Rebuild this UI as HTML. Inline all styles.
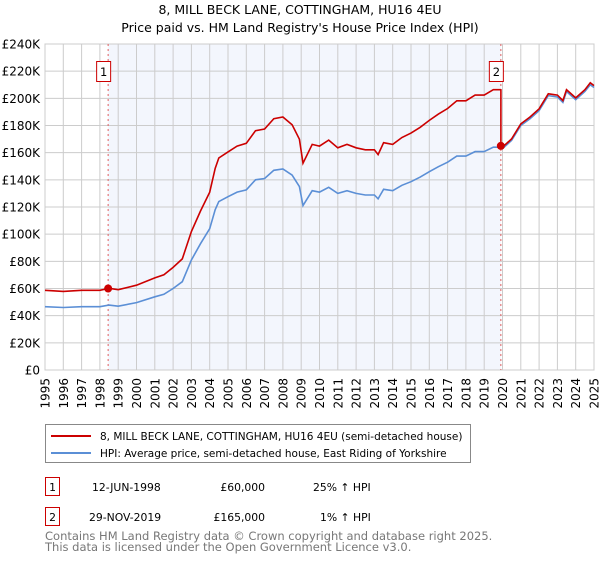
<!DOCTYPE html>
<html><head><meta charset="utf-8"><style>
body{margin:0;background:#fff;font-family:"Liberation Sans","DejaVu Sans",sans-serif;}
svg text{font-family:"DejaVu Sans","Liberation Sans",sans-serif;}
</style></head><body>
<svg id="c" width="600" height="560" xmlns="http://www.w3.org/2000/svg">
<text x="300" y="14" text-anchor="middle" font-size="12.5">8, MILL BECK LANE, COTTINGHAM, HU16 4EU</text>
<text x="300" y="32" text-anchor="middle" font-size="12.5">Price paid vs. HM Land Registry's House Price Index (HPI)</text>
<g id="plot"></g>
<g>
<rect x="45.5" y="424.5" width="425" height="38" fill="#fff" stroke="#888"/>
<line x1="51" y1="436" x2="91" y2="436" stroke="#cc0000" stroke-width="2"/>
<text x="100" y="440" font-size="10.5">8, MILL BECK LANE, COTTINGHAM, HU16 4EU (semi-detached house)</text>
<line x1="51" y1="453" x2="91" y2="453" stroke="#5b8fd6" stroke-width="2"/>
<text x="100" y="457" font-size="10.5">HPI: Average price, semi-detached house, East Riding of Yorkshire</text>
</g>
<g font-size="10.8">
<rect x="45.5" y="477.5" width="14" height="18" fill="#fff" stroke="#cc0000"/>
<text x="52.5" y="491" text-anchor="middle">1</text>
<text x="92" y="491">12-JUN-1998</text><text x="265" y="491" text-anchor="end">£60,000</text><text x="313" y="491">25% ↑ HPI</text>
<rect x="45.5" y="507.5" width="14" height="18" fill="#fff" stroke="#cc0000"/>
<text x="52.5" y="521" text-anchor="middle">2</text>
<text x="89" y="521">29-NOV-2019</text><text x="265" y="521" text-anchor="end">£165,000</text><text x="320" y="521">1% ↑ HPI</text>
</g>
<text x="45" y="540" font-size="11.5" fill="#777">Contains HM Land Registry data © Crown copyright and database right 2025.</text>
<text x="45" y="551" font-size="11.5" fill="#777">This data is licensed under the Open Government Licence v3.0.</text>
</svg>
<script>
const hpiYears=[1995,1996,1997,1998,1998.5,1999,2000,2001,2001.5,2002,2002.5,2003,2003.5,2004,2004.3,2004.5,2005,2005.5,2006,2006.5,2007,2007.5,2008,2008.5,2008.9,2009.1,2009.6,2010,2010.5,2011,2011.5,2012,2012.5,2013,2013.2,2013.5,2014,2014.5,2015,2015.5,2016,2016.5,2017,2017.5,2018,2018.5,2019,2019.5,2019.9,2020,2020.5,2021,2021.5,2022,2022.5,2023,2023.3,2023.5,2024,2024.5,2024.8,2025];
const hpiValues=[46.6,46.0,46.6,46.6,47.8,47.0,49.6,53.9,55.7,60,65,81,93,104,118,124,127.6,131,132.6,140,141,147,148,143.5,135,121,132,131,134.5,130,132,130,128.8,128.8,126,133,132,136,138.6,142,146,149.7,153,157.5,157.5,160.8,160.8,164,164,163,169,180,185,191,202,201,197,205,199,205,210,208];
const saleDates=[1998.45,2019.91];
const salePrices=[60,165];
const saleLabels=["1","2"];
const yTicks=[0,20,40,60,80,100,120,140,160,180,200,220,240];
const xTicks=[1995,1996,1997,1998,1999,2000,2001,2002,2003,2004,2005,2006,2007,2008,2009,2010,2011,2012,2013,2014,2015,2016,2017,2018,2019,2020,2021,2022,2023,2024,2025];
const L=45,R=594,T=44,B=370,X0=1995,X1=2025,YMAX=240;
const sx=v=>L+(v-X0)/(X1-X0)*(R-L), sy=v=>B-v/YMAX*(B-T);
const NS="http://www.w3.org/2000/svg",g=document.getElementById('plot');
function mk(t,a,p){const e=document.createElementNS(NS,t);for(const k in a)e.setAttribute(k,a[k]);(p||g).appendChild(e);return e;}
function hpiAt(d){for(let i=1;i<hpiYears.length;i++){if(d<=hpiYears[i]){const f=(d-hpiYears[i-1])/(hpiYears[i]-hpiYears[i-1]);return hpiValues[i-1]+f*(hpiValues[i]-hpiValues[i-1]);}}return hpiValues[hpiValues.length-1];}
const sh=mk('rect',{x:sx(saleDates[0]),y:T,width:sx(saleDates[1])-sx(saleDates[0]),height:B-T,fill:'#f3f6fd'});


xTicks.forEach(t=>{const l=mk('line',{x1:sx(t),x2:sx(t),y1:T,y2:B,stroke:'#ccc'});


const tg=mk('g',{transform:'translate('+(sx(t)+4.5).toFixed(1)+',378)'});
const rg=mk('g',{transform:'rotate(-90)'},tg);
const tx=mk('text',{x:0,y:0,'font-size':12,'text-anchor':'end'},rg);tx.textContent=t;

});
yTicks.forEach(t=>{const l=mk('line',{x1:L,x2:R,y1:sy(t),y2:sy(t),stroke:'#ccc'});


const tx=mk('text',{x:40,y:sy(t)+4.5,'font-size':12,'text-anchor':'end'});tx.textContent=t===0?'£0':'£'+t+'K';

});
const fr=mk('rect',{x:L,y:T,width:R-L,height:B-T,fill:'none',stroke:'#ccc'});


saleDates.forEach((d,i)=>{const l=mk('line',{x1:sx(d),x2:sx(d),y1:T,y2:B,stroke:'#e06060','stroke-dasharray':'2,3'});

});
let pb=hpiYears.map((y,i)=>sx(y).toFixed(1)+','+sy(hpiValues[i]).toFixed(1)).join(' ');
const bl=mk('polyline',{points:pb,fill:'none',stroke:'#5b8fd6','stroke-width':1.6});


const r1=salePrices[0]/hpiAt(saleDates[0]),r2=salePrices[1]/hpiAt(saleDates[1]);
let pts=[];hpiYears.forEach((y,i)=>{if(y<saleDates[1])pts.push([y,hpiValues[i]*r1]);});
pts.push([saleDates[1],hpiAt(saleDates[1])*r1]);pts.push([saleDates[1],salePrices[1]]);
hpiYears.forEach((y,i)=>{if(y>saleDates[1])pts.push([y,hpiValues[i]*r2]);});
const rl=mk('polyline',{points:pts.map(p=>sx(p[0]).toFixed(1)+','+sy(p[1]).toFixed(1)).join(' '),fill:'none',stroke:'#cc0000','stroke-width':1.6});


saleDates.forEach((d,i)=>{const c=mk('circle',{cx:sx(d),cy:sy(salePrices[i]),r:4,fill:'#cc0000'});


const b=mk('rect',{x:sx(d)-11.5,y:61.5,width:14,height:20,fill:'#fff',stroke:'#cc0000'});


const t=mk('text',{x:sx(d)-4.5,y:76,'font-size':11.5,'text-anchor':'middle'});t.textContent=saleLabels[i];

});
</script>
</body></html>
